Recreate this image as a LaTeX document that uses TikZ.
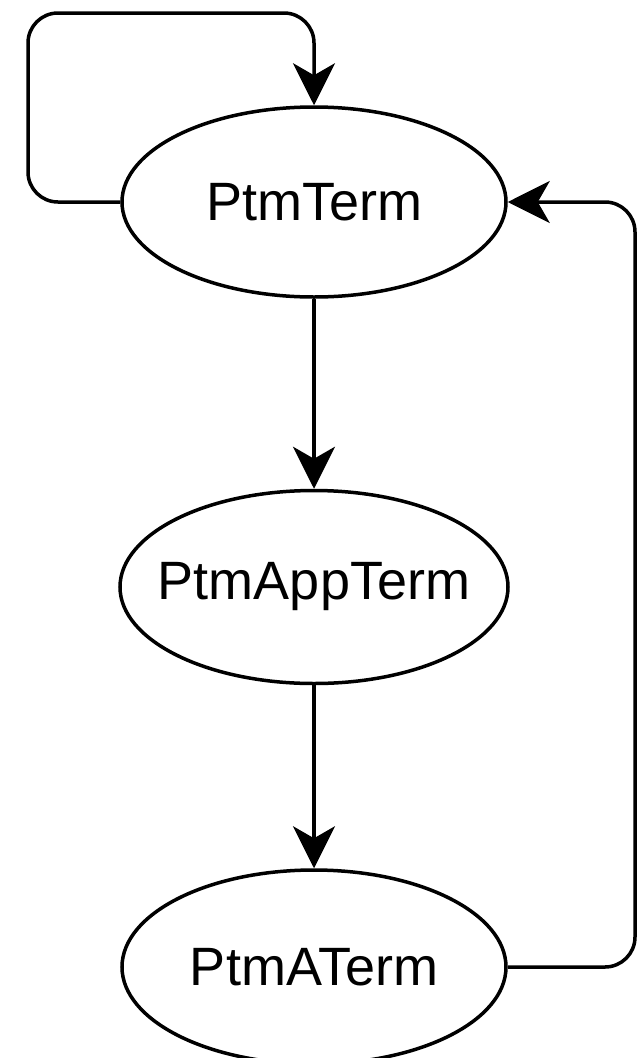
\documentclass[tikz,border=0pt]{standalone}
\usepackage{fontspec}
\setmainfont{Liberation Sans}
\usetikzlibrary{shapes.geometric,arrows.meta}
\begin{document}
\begin{tikzpicture}[x=1pt,y=-1pt,
  state/.style={ellipse,draw,line width=3.5pt,minimum width=384pt,minimum height=190pt,inner xsep=-60pt,inner ysep=0pt,font=\fontsize{54}{60}\selectfont},
  conn/.style={line width=3.5pt,rounded corners=30pt,-{Stealth[length=42pt,width=42pt,inset=12pt]}}]
\useasboundingbox (0,0) rectangle (637,1058);
\node[state] (t) at (314,202) {PtmTerm};
\node[state,minimum width=388pt,minimum height=193pt] (app) at (314,587) {PtmAppTerm};
\node[state,minimum height=194pt] (a) at (314,967) {PtmATerm};
\draw[conn] (t.west) -- (28,202) -- (28,13) -- (314,13) -- (t.north);
\draw[conn] (t.south) -- (app.north);
\draw[conn] (app.south) -- (a.north);
\draw[conn] (a.east) -- (635,967) -- (635,202) -- (t.east);
\end{tikzpicture}
\end{document}
